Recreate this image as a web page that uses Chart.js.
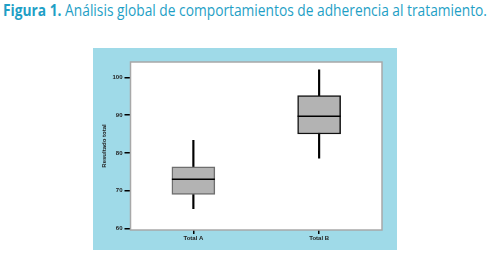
<!DOCTYPE html>
<html>
<head>
<meta charset="utf-8">
<script src="https://cdn.jsdelivr.net/npm/chart.js@4/dist/chart.umd.min.js"></script>
<style>
  html, body { margin: 0; padding: 0; background: #ffffff; width: 491px; height: 256px; overflow: hidden; }
  #title { position: absolute; left: 3px; top: -1px; white-space: nowrap; color: #1f9fc6;
           font-family: "Open Sans", "DejaVu Sans", sans-serif; font-size: 16.5px; line-height: 22px;
           transform-origin: 0 0; }
  #title b { font-weight: 700; }
  #wrap { position: absolute; left: 93px; top: 48px; width: 304px; height: 202px; background: #9fdae8; }
</style>
</head>
<body>
<div id="title"><b>Figura 1.</b> Análisis global de comportamientos de adherencia al tratamiento.</div>
<div id="wrap"><canvas id="c" width="304" height="202"></canvas></div>
<script>
// ---- data ----
const categories = ["Total A", "Total B"];
const whiskerLow = [65.2, 78.6];
const whiskerHigh = [83.3, 102.0];
const q1 = [69.0, 85.0];
const q3 = [76.3, 95.2];
const medians = [73.0, 89.7];
const yTicks = [60, 70, 80, 90, 100];
const yTitle = "Resultado total";

// fit title to width
(function () {
  const t = document.getElementById('title');
  const w = t.getBoundingClientRect().width;
  t.style.transform = 'scaleX(' + (484 / w) + ')';
})();

const plotFrame = {
  id: 'plotFrame',
  beforeDatasetsDraw(chart) {
    const a = chart.chartArea, ctx = chart.ctx;
    ctx.save();
    ctx.fillStyle = '#ffffff';
    ctx.fillRect(a.left, a.top, a.right - a.left, a.bottom - a.top);
    ctx.restore();
  },
  afterDatasetsDraw(chart) {
    const a = chart.chartArea, ctx = chart.ctx;
    const x = chart.scales.x, y = chart.scales.y;
    ctx.save();
    // medians
    ctx.strokeStyle = '#000';
    ctx.lineWidth = 1.5;
    medians.forEach((m, i) => {
      const cx = x.getPixelForValue(i);
      const py = y.getPixelForValue(m);
      ctx.beginPath();
      ctx.moveTo(cx - 21.5, py);
      ctx.lineTo(cx + 21.5, py);
      ctx.stroke();
    });
    // frame
    ctx.strokeStyle = '#a8a8a8';
    ctx.lineWidth = 1.5;
    ctx.strokeRect(a.left, a.top, a.right - a.left, a.bottom - a.top);
    ctx.restore();
  }
};

const tickFont = { family: "'Liberation Sans', Arial, sans-serif", size: 6, weight: 'bold' };

new Chart(document.getElementById('c'), {
  type: 'bar',
  data: {
    labels: categories,
    datasets: [
      {
        label: 'box',
        data: q1.map((v, i) => [v, q3[i]]),
        backgroundColor: '#b3b3b3',
        borderColor: ['#6e6e6e', '#111111'],
        borderWidth: 1.5,
        borderSkipped: false,
        barThickness: 43,
        grouped: false,
        order: 0
      },
      {
        label: 'whisker',
        data: whiskerLow.map((v, i) => [v, whiskerHigh[i]]),
        backgroundColor: '#000000',
        borderWidth: 0,
        barThickness: 1.5,
        grouped: false,
        order: 1
      }
    ]
  },
  options: {
    responsive: false,
    animation: false,
    devicePixelRatio: 1,
    layout: { padding: { top: 14, right: 15, bottom: 0, left: 8 } },
    plugins: { legend: { display: false }, tooltip: { enabled: false }, title: { display: false } },
    scales: {
      x: {
        offset: true,
        grid: { display: true, offset: false, drawOnChartArea: false, drawTicks: true, tickLength: 4, color: '#000', lineWidth: 1.5 },
        border: { display: false },
        ticks: { color: '#222', font: tickFont, padding: 1, maxRotation: 0 },
        afterFit(s) { s.height = 20; }
      },
      y: {
        min: 59.55,
        max: 104.1,
        afterBuildTicks(s) { s.ticks = yTicks.map(v => ({ value: v })); },
        grid: { display: true, drawOnChartArea: false, drawTicks: true, tickLength: 6, color: '#000', lineWidth: 1.5 },
        border: { display: false },
        ticks: { color: '#222', font: tickFont, padding: 2 },
        title: { display: true, text: yTitle, color: '#222', font: tickFont, padding: { top: 0, bottom: 0 } },
        afterFit(s) { s.width = 29.5; }
      }
    }
  },
  plugins: [plotFrame]
});
</script>
</body>
</html>
